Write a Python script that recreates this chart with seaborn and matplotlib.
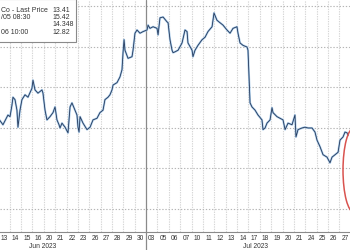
import matplotlib
matplotlib.use("Agg")
import matplotlib.pyplot as plt
import seaborn as sns
import pandas as pd
from matplotlib.patches import Ellipse, Rectangle

# ---- data ----
day_labels = ["13", "14", "15", "16", "20", "21", "22", "23", "26", "27", "28", "29", "30",
              "03", "05", "06", "07", "10", "11", "12", "13", "14", "17", "18", "19", "20",
              "21", "24", "25", "26", "27"]
month_labels = ["Jun 2023", "Jul 2023"]
month_label_pos = [3.93, 22.58]
month_break = 13

t = [0.0, 0.41, 0.77, 0.85, 1.03, 1.20, 1.29, 1.47, 1.64, 1.73, 1.91, 2.08, 2.35, 2.61, 2.96,
     3.05, 3.23, 3.49, 3.84, 3.93, 4.11, 4.28, 4.55, 4.81, 4.99, 5.16, 5.34, 5.43, 5.60, 5.87,
     6.13, 6.31, 6.48, 6.75, 6.92, 7.01, 7.10, 7.19, 7.45, 7.80, 8.07, 8.33, 8.68, 8.94, 9.21,
     9.38, 9.65, 9.82, 10.00, 10.09, 10.44, 10.70, 10.88, 10.97, 11.06, 11.14, 11.41, 11.76,
     11.85, 12.02, 12.20, 12.46, 12.73, 13.08, 13.17, 13.34, 13.61, 13.96, 14.05, 14.22, 14.49,
     14.84, 14.93, 15.10, 15.28, 15.37, 15.54, 15.81, 16.16, 16.42, 16.60, 16.68, 17.04, 17.12,
     17.30, 17.56, 17.92, 18.18, 18.44, 18.80, 18.97, 19.23, 19.50, 19.76, 20.11, 20.38, 20.64,
     20.99, 21.08, 21.26, 21.52, 21.87, 21.96, 22.05, 22.14, 22.31, 22.58, 22.84, 23.19, 23.28,
     23.46, 23.63, 23.90, 24.07, 24.16, 24.51, 24.78, 25.04, 25.22, 25.48, 25.83, 26.09, 26.18,
     26.36, 26.71, 26.97, 27.24, 27.59, 27.85, 28.03, 28.29, 28.56, 28.91, 29.17, 29.35, 29.61,
     29.88, 30.05, 30.32, 30.49, 30.67, 30.76]
price = [14.12, 14.04, 14.14, 14.16, 14.14, 14.28, 14.38, 14.35, 14.22, 14.01, 14.22, 14.35,
         14.41, 14.38, 14.49, 14.59, 14.47, 14.43, 14.47, 14.43, 14.22, 14.10, 14.14, 14.19,
         14.26, 14.10, 14.04, 14.00, 14.06, 14.01, 13.94, 14.26, 14.31, 14.22, 14.16, 14.01,
         13.95, 14.14, 14.06, 13.98, 14.01, 14.10, 14.12, 14.19, 14.22, 14.35, 14.38, 14.41,
         14.47, 14.53, 14.56, 14.63, 14.72, 14.93, 15.09, 14.96, 14.86, 14.88, 14.96, 15.17,
         15.21, 15.17, 15.19, 15.21, 15.27, 15.23, 15.25, 15.23, 15.15, 15.36, 15.37, 15.31,
         15.30, 15.09, 14.96, 14.93, 14.94, 14.96, 15.05, 15.21, 15.19, 15.05, 14.96, 14.88,
         14.96, 15.02, 15.09, 15.12, 15.19, 15.25, 15.42, 15.33, 15.30, 15.27, 15.21, 15.17,
         15.23, 15.25, 15.17, 15.05, 15.02, 15.00, 14.96, 14.63, 14.31, 14.26, 14.22, 14.16,
         14.10, 13.98, 14.00, 14.06, 14.10, 14.25, 14.19, 14.14, 14.12, 14.10, 13.98, 14.06,
         14.04, 14.16, 13.89, 13.98, 14.00, 14.01, 14.00, 14.00, 13.95, 13.85, 13.77, 13.67,
         13.64, 13.57, 13.64, 13.67, 13.70, 13.85, 13.89, 13.95, 13.94, 13.91]

legend_left = ["Co - Last Price", "/05 08:30", "", "06 10:00"]
legend_right = ["13.41", "15.42", "14.348", "12.82"]

y_grid = [13.0, 13.5, 14.0, 14.5, 15.0, 15.5]

df = pd.DataFrame({"t": t, "price": price})

# ---- style ----
sns.set_style("white")
plt.rcParams["font.family"] = ["Liberation Sans", "DejaVu Sans"]

W, H = 350, 250
fig = plt.figure(figsize=(3.5, 2.5), dpi=100)
ax = fig.add_axes([0, 18 / H, 1, 232 / H])
ax.set_xlim(0.15, 30.93)
ax.set_ylim(12.716, 15.58)

# grid
for k in range(0, 32):
    if k == month_break:
        continue
    ax.axvline(k, color="#d6d6d6", lw=0.8, ls=(0, (1.2, 1.0)), zorder=0)
for yv in y_grid:
    ax.axhline(yv, color="#b5b5b5", lw=0.8, ls=(0, (1.2, 1.6)), zorder=0)
ax.axvline(month_break, ymin=-18 / 232, ymax=1, color="#8a8a8a", lw=0.9,
           clip_on=False, zorder=1)

# price line: light blue glow + dark core
sns.lineplot(data=df, x="t", y="price", ax=ax, color="#a9cbea", lw=1.5,
             estimator=None, sort=False, zorder=3)
sns.lineplot(data=df, x="t", y="price", ax=ax, color="#24385a", lw=0.6,
             estimator=None, sort=False, zorder=4)

# red ellipse annotation
ax.add_patch(Ellipse((31.28, 13.48), 1.93, 1.04, fill=False, edgecolor="#d9534f",
                     lw=1.1, zorder=5, clip_on=False))

# axes styling
for s in ["top", "left", "right"]:
    ax.spines[s].set_visible(False)
ax.spines["bottom"].set_color("#8a8a8a")
ax.spines["bottom"].set_linewidth(0.8)
ax.set_yticks([])
ax.set_xticks([k + 0.5 for k in range(len(day_labels))])
ax.set_xticklabels(day_labels, fontsize=4.8, color="#333333")
ax.tick_params(axis="x", length=0, pad=2.2)
ax.set_xlabel("")
ax.set_ylabel("")

for lab, pos in zip(month_labels, month_label_pos):
    ax.text(pos, -14.5 / 232, lab, transform=ax.get_xaxis_transform(),
            ha="center", va="center", fontsize=4.8, color="#333333")

# legend box (top-left)
fig.patches.append(Rectangle((-0.01, 1 - 42 / H), 79 / W, 43 / H, transform=fig.transFigure,
                             facecolor="white", edgecolor="#8a8a8a", lw=0.8, zorder=10))
rows_y = [10.7, 17.3, 24.7, 32.0]
for ly, l, r in zip(rows_y, legend_left, legend_right):
    fig.text(1 / W, 1 - ly / H, l, ha="left", va="center", fontsize=5, color="#333333",
             zorder=11)
    fig.text(52 / W, 1 - ly / H, r, ha="left", va="center", fontsize=5, color="#333333",
             zorder=11)

fig.savefig("out.png", dpi=100)
